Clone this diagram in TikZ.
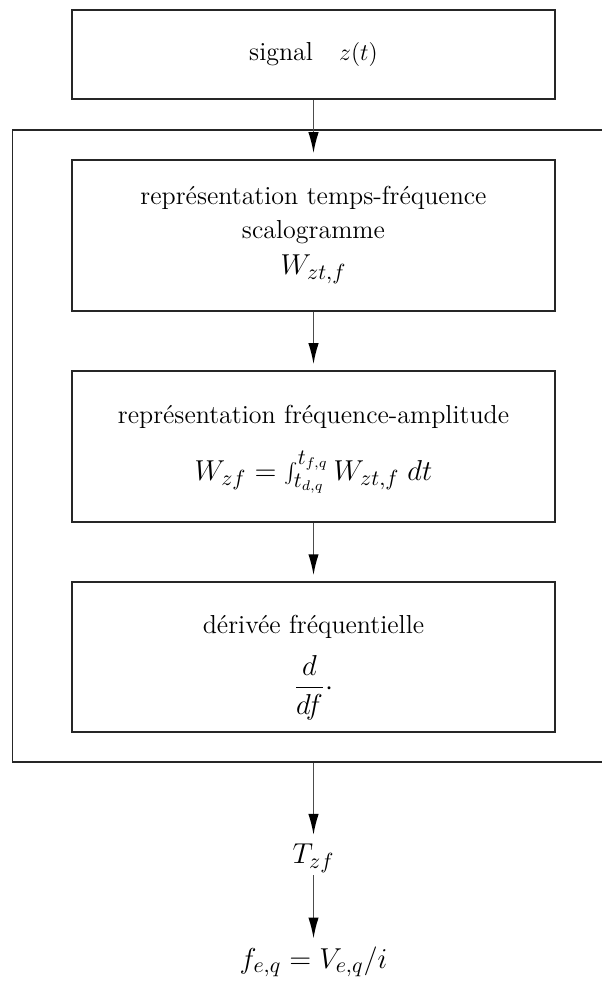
\documentclass[tikz,border=0pt]{standalone}
\usetikzlibrary{arrows.meta}
\begin{document}
\begin{tikzpicture}[x=0.5pt,y=-0.5pt,
  box/.style={draw=black!85,line width=0.75pt,rectangle,minimum width=241.5pt,inner sep=0pt,align=center,font=\fontsize{13}{15}\selectfont},
  frame/.style={draw=black!85,line width=0.75pt,rectangle,minimum width=301pt,minimum height=316pt,inner sep=0pt},
  txt/.style={inner sep=0pt,font=\fontsize{13}{15}\selectfont},
  lbl/.style={inner sep=1pt,font=\fontsize{15}{18}\selectfont},
  arr/.style={draw=black!70,line width=0.75pt,-{Latex[length=10.5pt,width=5.2pt,color=black]},shorten >=3pt}]
\useasboundingbox (0,0) rectangle (601,983);
\node[frame] (fr) at (313.5,446) {};
\node[box,minimum height=44.5pt] (b1) at (313.5,54.5) {signal\quad$z(t)$};
\node[box,minimum height=75.5pt] (b2) at (313.5,235.5) {};
\node[box,minimum height=75.5pt] (b3) at (313.5,446.5) {};
\node[box,minimum height=75pt] (b4) at (313.5,657) {};
\node[txt] (t2a) at (313.5,198) {représentation temps-fréquence};
\node[txt] (t2b) at (313.5,232) {scalogramme};
\node[lbl] (t2c) at (313.5,269) {$W_{zt,f}$};
\node[txt] (t3a) at (313.5,417) {représentation fréquence-amplitude};
\node[lbl] (t3b) at (313.5,472) {$W_{zf}=\int_{t_{d,q}}^{t_{f,q}}W_{zt,f}\;dt$};
\node[txt] (t4a) at (313.5,627) {dérivée fréquentielle};
\node[lbl] (t4b) at (313.5,688) {$\displaystyle\frac{d}{df}\cdot$};
\node[lbl] (tz) at (313.5,858) {$T_{zf}$};
\node[lbl] (fe) at (313.5,962) {$f_{e,q}=V_{e,q}/i$};
\draw[arr] (b1.south) -- (b2.north);
\draw[arr] (b2.south) -- (b3.north);
\draw[arr] (b3.south) -- (b4.north);
\draw[arr] (fr.south -| tz.north) -- (tz.north);
\draw[arr] (tz.south) -- (fe.north);
\end{tikzpicture}
\end{document}
